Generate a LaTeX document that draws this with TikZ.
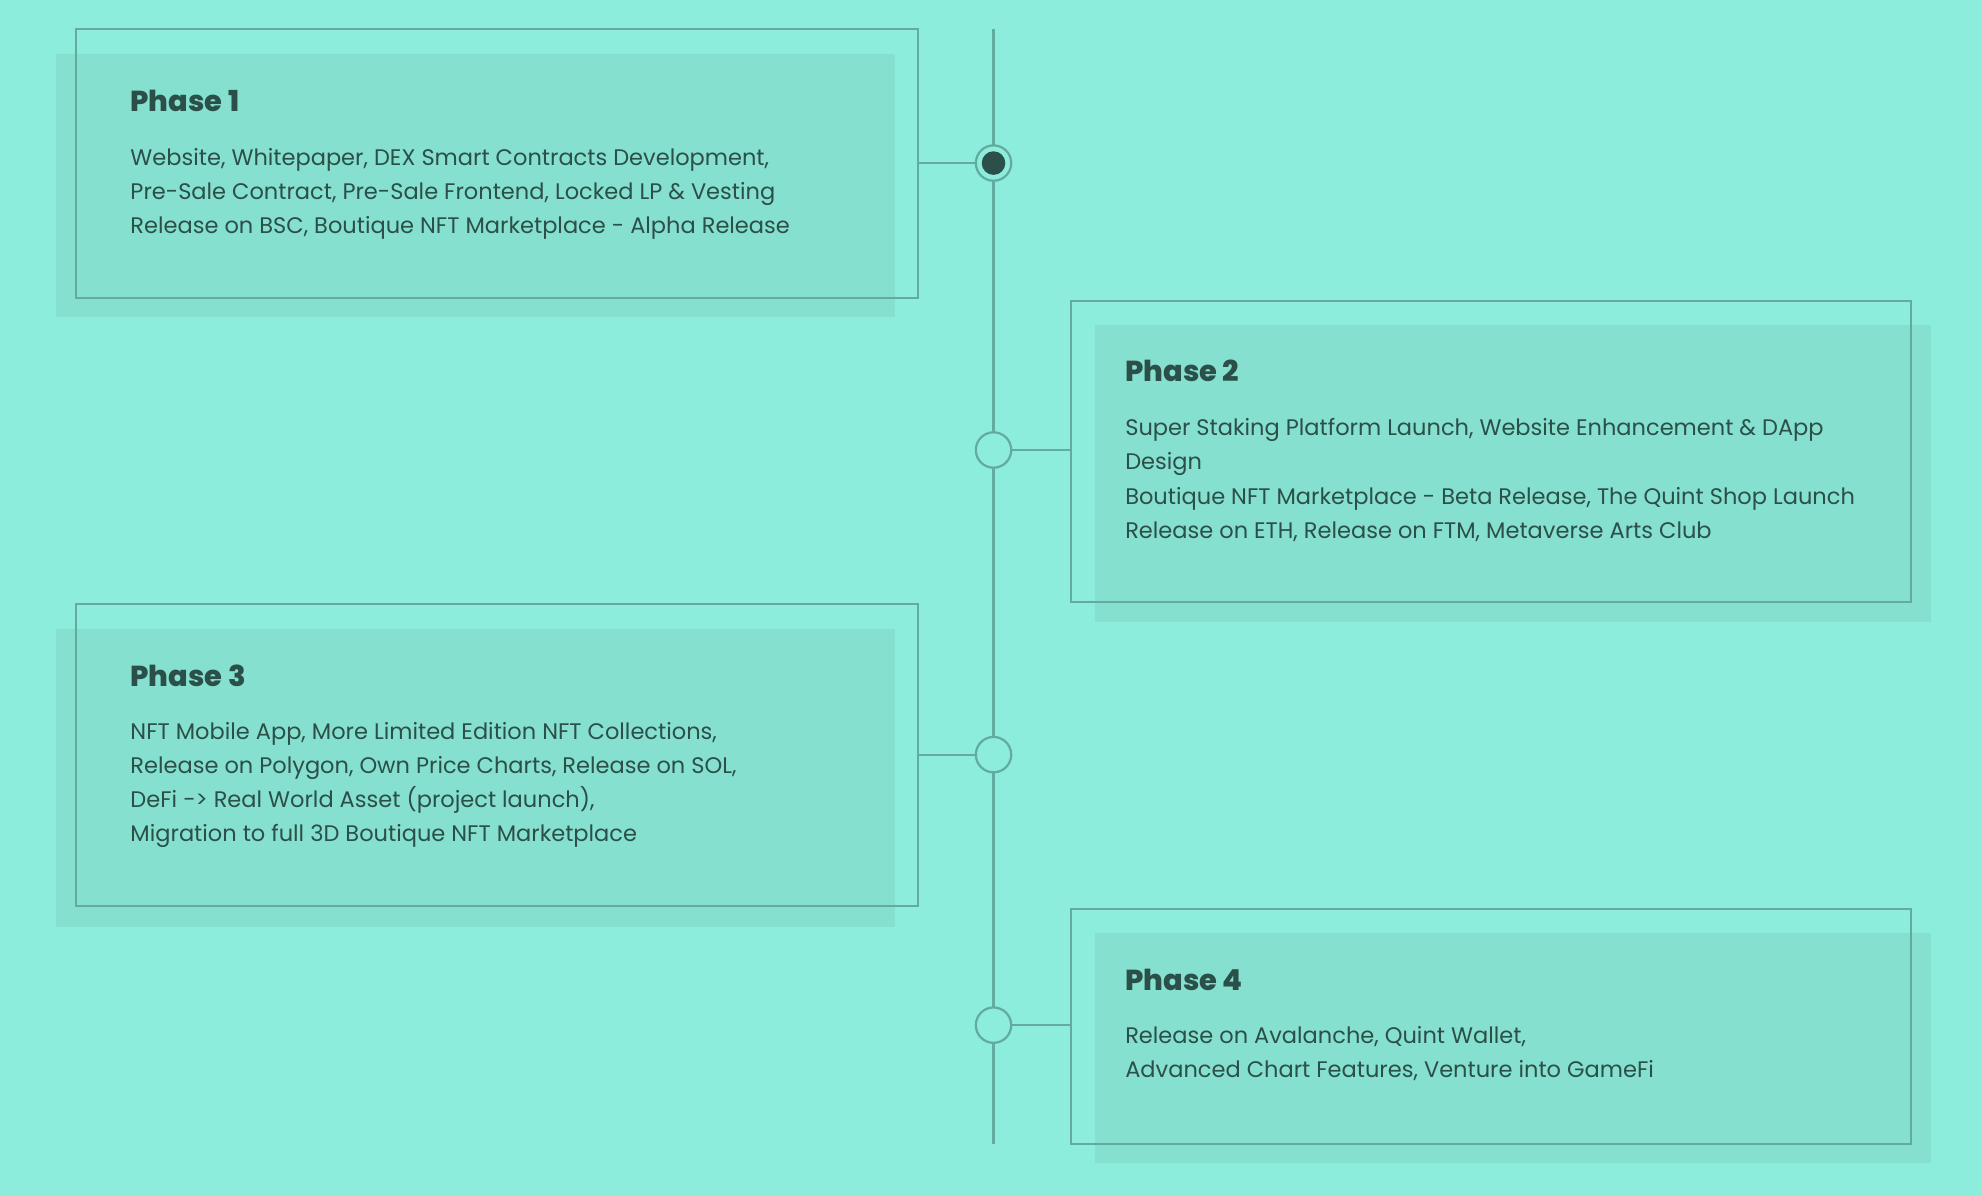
\documentclass[tikz,border=0pt]{standalone}
\usepackage{fontspec}
\setmainfont{Poppins}[BoldFont={Poppins ExtraBold}]
\usetikzlibrary{positioning}
\definecolor{bgmint}{HTML}{8CEDDC}
\definecolor{shademint}{HTML}{86E0CF}
\definecolor{edgeteal}{HTML}{62AB9E}
\definecolor{inkgreen}{HTML}{2B4F49}
\tikzset{
  phasebox/.style={draw=edgeteal,line width=1.5pt},
  shadebox/.style={fill=shademint},
  phasetitle/.style={anchor=west,inner sep=0pt,font=\fontsize{19.5}{22}\selectfont\bfseries,text=inkgreen},
  phasetext/.style={anchor=north west,inner sep=0pt,align=left,font=\fontsize{15.2}{23}\selectfont,text=inkgreen},
  marker/.style={circle,draw=edgeteal,line width=1.5pt,fill=bgmint,minimum size=8.4mm,inner sep=0pt},
  link/.style={draw=edgeteal,line width=1.5pt}
}
\begin{document}
\begin{tikzpicture}[x=0.3mm,y=-0.3mm]
\fill[bgmint] (0,0) rectangle (1568,946);
\useasboundingbox (0,0) rectangle (1568,946);
% timeline
\coordinate (top) at (786,23);
\coordinate (bottom) at (786,905);
\draw[link] (top) -- (bottom);
% phase 1
\fill[shadebox] (44,43) rectangle (708,251);
\draw[phasebox] (60,23) rectangle (726,236);
\coordinate (p1edge) at (726,129);
\node[marker] (m1) at (786,129) {};
\fill[inkgreen] (m1) circle (2.8mm);
\draw[link] (p1edge) -- (m1);
\node[phasetitle] (t1) at (103,80) {Phase 1};
\node[phasetext] (x1) at (103,117) {Website, Whitepaper, DEX Smart Contracts Development,\\Pre-Sale Contract, Pre-Sale Frontend, Locked LP \& Vesting\\Release on BSC, Boutique NFT Marketplace - Alpha Release};
% phase 2
\fill[shadebox] (866,257) rectangle (1528,492);
\draw[phasebox] (847,238) rectangle (1512,476);
\coordinate (p2edge) at (847,356);
\node[marker] (m2) at (786,356) {};
\draw[link] (m2) -- (p2edge);
\node[phasetitle] (t2) at (890,293) {Phase 2};
\node[phasetext] (x2) at (890,331) {Super Staking Platform Launch, Website Enhancement \& DApp\\Design\\Boutique NFT Marketplace - Beta Release, The Quint Shop Launch\\Release on ETH, Release on FTM, Metaverse Arts Club};
% phase 3
\fill[shadebox] (44,498) rectangle (708,733);
\draw[phasebox] (60,478) rectangle (726,717);
\coordinate (p3edge) at (726,597);
\node[marker] (m3) at (786,597) {};
\draw[link] (p3edge) -- (m3);
\node[phasetitle] (t3) at (103,535) {Phase 3};
\node[phasetext] (x3) at (103,571) {NFT Mobile App, More Limited Edition NFT Collections,\\Release on Polygon, Own Price Charts, Release on SOL,\\DeFi -> Real World Asset (project launch),\\Migration to full 3D Boutique NFT Marketplace};
% phase 4
\fill[shadebox] (866,738) rectangle (1528,920);
\draw[phasebox] (847,719) rectangle (1512,905);
\coordinate (p4edge) at (847,811);
\node[marker] (m4) at (786,811) {};
\draw[link] (m4) -- (p4edge);
\node[phasetitle] (t4) at (890,775) {Phase 4};
\node[phasetext] (x4) at (890,812) {Release on Avalanche, Quint Wallet,\\Advanced Chart Features, Venture into GameFi};
\end{tikzpicture}
\end{document}
